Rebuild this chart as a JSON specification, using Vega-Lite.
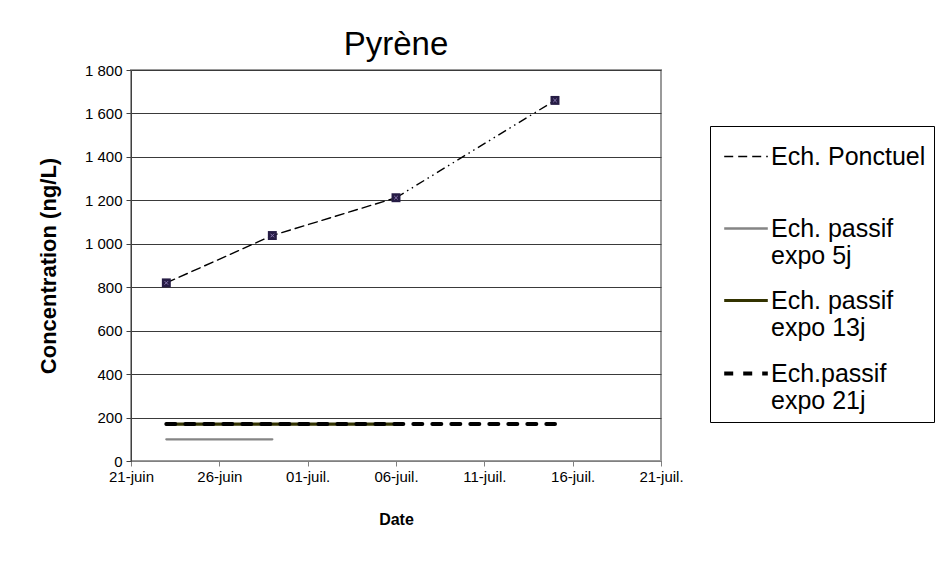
{
  "$schema": "https://vega.github.io/schema/vega-lite/v6.json",
  "width": 530,
  "height": 391,
  "autosize": {"type": "none"},
  "padding": {"left": 131, "top": 70, "right": 274, "bottom": 100},
  "background": "white",
  "config": {
    "font": "Liberation Sans",
    "view": {"stroke": "#9a9a9a", "strokeWidth": 2}
  },
  "title": {
    "text": "Pyrène",
    "fontSize": 33,
    "fontWeight": "normal",
    "font": "Liberation Sans",
    "color": "black",
    "anchor": "middle",
    "offset": 1
  },
  "data": {
    "values": [
      {"serie": "Ech. Ponctuel", "date": "2010-06-23", "conc": 820},
      {"serie": "Ech. Ponctuel", "date": "2010-06-29", "conc": 1038},
      {"serie": "Ech. Ponctuel", "date": "2010-07-06", "conc": 1212},
      {"serie": "Ech. Ponctuel", "date": "2010-07-15", "conc": 1660},
      {"serie": "Ech. passif expo 5j", "date": "2010-06-23", "conc": 100},
      {"serie": "Ech. passif expo 5j", "date": "2010-06-29", "conc": 100},
      {"serie": "Ech. passif expo 13j", "date": "2010-06-23", "conc": 170},
      {"serie": "Ech. passif expo 13j", "date": "2010-07-06", "conc": 170},
      {"serie": "Ech.passif expo 21j", "date": "2010-06-23", "conc": 170},
      {"serie": "Ech.passif expo 21j", "date": "2010-07-15", "conc": 170}
    ]
  },
  "encoding": {
    "x": {
      "field": "date",
      "type": "temporal",
      "scale": {
        "type": "utc",
        "domain": [
          {"year": 2010, "month": 6, "date": 21, "utc": true},
          {"year": 2010, "month": 7, "date": 21, "utc": true}
        ]
      },
      "axis": {
        "title": "Date",
        "titleFontSize": 16,
        "titleFontWeight": "bold",
        "titleColor": "black",
        "titlePadding": 27,
        "values": [
          {"year": 2010, "month": 6, "date": 21, "utc": true},
          {"year": 2010, "month": 6, "date": 26, "utc": true},
          {"year": 2010, "month": 7, "date": 1, "utc": true},
          {"year": 2010, "month": 7, "date": 6, "utc": true},
          {"year": 2010, "month": 7, "date": 11, "utc": true},
          {"year": 2010, "month": 7, "date": 16, "utc": true},
          {"year": 2010, "month": 7, "date": 21, "utc": true}
        ],
        "labelExpr": "utcFormat(datum.value, '%d') + '-' + (utcmonth(datum.value) == 5 ? 'juin' : 'juil.')",
        "labelFontSize": 15,
        "labelColor": "black",
        "labelPadding": 3,
        "labelFlush": false,
        "labelOverlap": false,
        "tickSize": 5,
        "tickColor": "#808080",
        "domainColor": "#808080",
        "grid": false
      }
    },
    "y": {
      "field": "conc",
      "type": "quantitative",
      "scale": {"domain": [0, 1800], "nice": false},
      "axis": {
        "title": "Concentration (ng/L)",
        "titleFontSize": 22,
        "titleFontWeight": "bold",
        "titleColor": "black",
        "titlePadding": 24,
        "values": [0, 200, 400, 600, 800, 1000, 1200, 1400, 1600, 1800],
        "labelExpr": "replace(format(datum.value, ','), ',', ' ')",
        "labelFontSize": 15,
        "labelColor": "black",
        "labelPadding": 4,
        "tickSize": 5,
        "tickColor": "#404040",
        "domainColor": "#404040",
        "gridColor": "#3a3a3a",
        "gridWidth": 1
      }
    }
  },
  "layer": [
    {
      "transform": [
        {"filter": {"or": [
          {"field": "serie", "oneOf": ["Ech. passif expo 5j", "Ech. passif expo 13j", "Ech.passif expo 21j"]},
          {"field": "date", "lte": {"year": 2010, "month": 7, "date": 6, "utc": true}}
        ]}}
      ],
      "mark": {"type": "line", "strokeCap": "round"},
      "encoding": {
        "color": {
          "field": "serie",
          "type": "nominal",
          "scale": {
            "domain": ["Ech. Ponctuel", "Ech. passif expo 5j", "Ech. passif expo 13j", "Ech.passif expo 21j"],
            "range": ["#000000", "#858585", "#333300", "#000000"]
          },
          "legend": {
            "title": null,
            "orient": "none",
            "legendX": 579,
            "legendY": 56,
            "symbolType": "stroke",
            "symbolSize": 1900,
            "symbolOffset": 4,
            "labelFontSize": 25,
            "labelFont": "Liberation Sans",
            "labelColor": "black",
            "labelLimit": 400,
            "labelOffset": 1,
            "rowPadding": 8.5,
            "padding": 8,
            "strokeColor": "black",
            "fillColor": "white",
            "labelExpr": "datum.label == 'Ech. Ponctuel' ? [datum.label, ''] : [slice(datum.label, 0, indexof(datum.label, ' expo')), slice(datum.label, indexof(datum.label, ' expo') + 1)]"
          }
        },
        "strokeDash": {
          "field": "serie",
          "type": "nominal",
          "scale": {
            "domain": ["Ech. Ponctuel", "Ech. passif expo 5j", "Ech. passif expo 13j", "Ech.passif expo 21j"],
            "range": [[9, 5], [1, 0], [1, 0], [9, 10]]
          }
        },
        "strokeWidth": {
          "field": "serie",
          "type": "nominal",
          "scale": {
            "domain": ["Ech. Ponctuel", "Ech. passif expo 5j", "Ech. passif expo 13j", "Ech.passif expo 21j"],
            "range": [1.4, 4, 5.5, 4.5]
          }
        }
      }
    },
    {
      "transform": [
        {"filter": {"and": [
          {"field": "serie", "equal": "Ech. Ponctuel"},
          {"field": "date", "gte": {"year": 2010, "month": 7, "date": 6, "utc": true}}
        ]}}
      ],
      "mark": {"type": "line", "color": "#000000", "strokeWidth": 1.4, "strokeDash": [9, 4, 1.5, 4, 1.5, 4]},
      "encoding": {}
    },
    {
      "transform": [{"filter": {"field": "serie", "equal": "Ech. Ponctuel"}}],
      "mark": {"type": "point", "shape": "square", "filled": true, "color": "#261c45", "size": 80, "opacity": 1},
      "encoding": {}
    },
    {
      "transform": [{"filter": {"field": "serie", "equal": "Ech. Ponctuel"}}],
      "mark": {"type": "point", "shape": "M-0.5,-0.5L0.5,0.5M0.5,-0.5L-0.5,0.5", "filled": false, "color": "#8a78b0", "strokeWidth": 1, "size": 50, "opacity": 1},
      "encoding": {}
    }
  ]
}
